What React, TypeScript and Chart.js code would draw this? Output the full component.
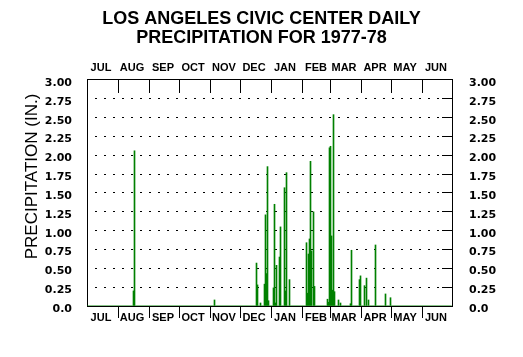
import { useEffect, useRef } from 'react';
import { Chart, registerables } from 'chart.js';

Chart.register(...registerables);

const titleLines = ['LOS ANGELES CIVIC CENTER DAILY', 'PRECIPITATION FOR 1977-78'];
const yAxisTitle = 'PRECIPITATION (IN.)';
const monthLabels = ['JUL', 'AUG', 'SEP', 'OCT', 'NOV', 'DEC', 'JAN', 'FEB', 'MAR', 'APR', 'MAY', 'JUN'];
const monthDays = [31, 31, 30, 31, 30, 31, 31, 28, 31, 30, 31, 30];
const seasonStart = '1977-07-01';
const yTickValues = [0, 0.25, 0.5, 0.75, 1, 1.25, 1.5, 1.75, 2, 2.25, 2.5, 2.75, 3];

const rainDates = [
  '1977-08-16', '1977-08-17', '1977-11-05',
  '1977-12-17', '1977-12-18', '1977-12-21', '1977-12-25', '1977-12-26', '1977-12-27', '1977-12-28', '1977-12-29',
  '1978-01-03', '1978-01-04', '1978-01-05', '1978-01-06', '1978-01-09', '1978-01-10', '1978-01-14', '1978-01-15', '1978-01-16', '1978-01-19',
  '1978-02-05', '1978-02-06', '1978-02-07', '1978-02-08', '1978-02-09', '1978-02-10', '1978-02-12', '1978-02-13', '1978-02-26', '1978-02-27', '1978-02-28',
  '1978-03-01', '1978-03-02', '1978-03-03', '1978-03-04', '1978-03-05', '1978-03-09', '1978-03-11', '1978-03-21', '1978-03-22', '1978-03-30', '1978-03-31',
  '1978-04-04', '1978-04-06', '1978-04-08', '1978-04-15', '1978-04-25', '1978-04-30',
];
const rainInches = [
  0.20, 2.06, 0.08,
  0.57, 0.28, 0.04, 0.29, 1.21, 0.43, 1.85, 0.07,
  0.24, 1.35, 0.04, 0.54, 0.65, 1.05, 1.57, 0.20, 1.77, 0.35,
  0.84, 0.17, 0.69, 0.89, 1.92, 0.73, 1.25, 0.26, 0.09, 0.05, 2.10,
  2.12, 0.93, 0.21, 2.54, 0.19, 0.08, 0.04, 0.03, 0.74, 0.35, 0.40,
  0.27, 0.37, 0.08, 0.81, 0.16, 0.11,
];

const DAY_MS = 86400000;
const startMs = Date.parse(seasonStart + 'T00:00:00Z');
const totalDays = monthDays.reduce((a, b) => a + b, 0);
const dayLabels: string[] = [];
for (let i = 0; i < totalDays; i++) {
  dayLabels.push(new Date(startMs + i * DAY_MS).toISOString().slice(0, 10));
}
const dailyValues: number[] = dayLabels.map(() => 0);
rainDates.forEach((d, i) => {
  const idx = Math.round((Date.parse(d + 'T00:00:00Z') - startMs) / DAY_MS);
  dailyValues[idx] = rainInches[i];
});
const monthStarts: number[] = [];
{
  let acc = 0;
  monthDays.forEach((n) => {
    monthStarts.push(acc);
    acc += n;
  });
}

const LAB_FONT = '"Liberation Sans", Arial, Helvetica, sans-serif';
const TICK_FONT = '"DejaVu Sans", Verdana, sans-serif';

const decorPlugin = {
  id: 'decor',
  afterDraw(chart: any) {
    const { ctx, chartArea } = chart;
    const xs = chart.scales.x;
    const ys = chart.scales.y;
    ctx.save();
    ctx.strokeStyle = '#000';
    ctx.lineWidth = 1;
    ctx.beginPath();
    monthStarts.forEach((s, k) => {
      if (k === 0) return;
      const px = Math.round(xs.getPixelForValue(s) - 0.5 - 0.5) + 0.5;
      ctx.moveTo(px, chartArea.top);
      ctx.lineTo(px, chartArea.top + 13);
      ctx.moveTo(px, chartArea.bottom);
      ctx.lineTo(px, chartArea.bottom + 12);
    });
    yTickValues.forEach((v) => {
      const py = Math.round(ys.getPixelForValue(v) - 0.5) + 0.5;
      ctx.moveTo(chartArea.right - 10, py);
      ctx.lineTo(chartArea.right, py);
    });
    ctx.stroke();

    ctx.translate(32.5, 176.5);
    ctx.rotate(-Math.PI / 2);
    ctx.fillStyle = '#000';
    ctx.font = '17px ' + LAB_FONT;
    ctx.textAlign = 'center';
    ctx.textBaseline = 'middle';
    ctx.fillText(yAxisTitle, 0, 0);
    ctx.restore();
  },
};

export default function App() {
  const ref = useRef<HTMLCanvasElement | null>(null);

  useEffect(() => {
    if (!ref.current) return;
    const monthTicks = (scale: any) => {
      scale.ticks = monthStarts.map((s) => ({ value: s + 13.5 }));
    };
    const xAxisCommon = {
      type: 'category' as const,
      offset: true,
      grid: { display: false, drawTicks: false },
      border: { display: true, color: '#000', width: 1 },
      afterBuildTicks: monthTicks,
      ticks: {
        autoSkip: false,
        maxRotation: 0,
        minRotation: 0,
        padding: 5,
        color: '#000',
        font: { family: LAB_FONT, size: 11, weight: 'bold' as const },
        callback: (_v: any, i: number) => monthLabels[i],
      },
    };
    const yTickCb = (v: any) => (Number(v) === 0 ? '0.0' : Number(v).toFixed(2));
    const chart = new Chart(ref.current, {
      type: 'bar',
      data: {
        labels: dayLabels,
        datasets: [
          {
            data: dailyValues,
            backgroundColor: '#008000',
            borderWidth: 0,
            barThickness: 1,
            xAxisID: 'x',
            yAxisID: 'y',
          },
        ],
      },
      plugins: [decorPlugin],
      options: {
        responsive: false,
        animation: false,
        devicePixelRatio: 1,
        layout: { padding: 0 },
        plugins: {
          legend: { display: false },
          tooltip: { enabled: false },
          title: {
            display: true,
            text: titleLines,
            color: '#000',
            font: { family: LAB_FONT, size: 18, weight: 'bold', lineHeight: 1.083 },
            padding: { top: 9, bottom: 0 },
          },
        },
        scales: {
          x: {
            ...xAxisCommon,
            position: 'bottom',
            afterFit: (s: any) => {
              s.height = 51;
            },
          },
          xTop: {
            ...xAxisCommon,
            position: 'top',
            afterFit: (s: any) => {
              s.height = 32;
            },
          },
          y: {
            type: 'linear',
            position: 'left',
            min: 0,
            max: 3,
            afterFit: (s: any) => {
              s.width = 87;
            },
            grid: { display: true, color: '#000', lineWidth: 1, drawTicks: false },
            border: { display: true, color: '#000', width: 1, dash: [2, 7], dashOffset: 2 },
            ticks: {
              stepSize: 0.25,
              padding: 15,
              labelOffset: 3,
              color: '#000',
              font: { family: TICK_FONT, size: 11, weight: 'bold' },
              callback: yTickCb,
            },
          },
          y2: {
            type: 'linear',
            position: 'right',
            min: 0,
            max: 3,
            afterFit: (s: any) => {
              s.width = 71;
            },
            grid: { display: false, drawTicks: false },
            border: { display: true, color: '#000', width: 1 },
            ticks: {
              stepSize: 0.25,
              padding: 17,
              labelOffset: 3,
              color: '#000',
              font: { family: TICK_FONT, size: 11, weight: 'bold' },
              callback: yTickCb,
            },
          },
        },
      } as any,
    });
    return () => chart.destroy();
  }, []);

  return (
    <div style={{ position: 'fixed', left: 0, top: 0, width: 523, height: 357, background: '#fff' }}>
      <canvas ref={ref} width={523} height={357} style={{ display: 'block', width: 523, height: 357 }} />
    </div>
  );
}
